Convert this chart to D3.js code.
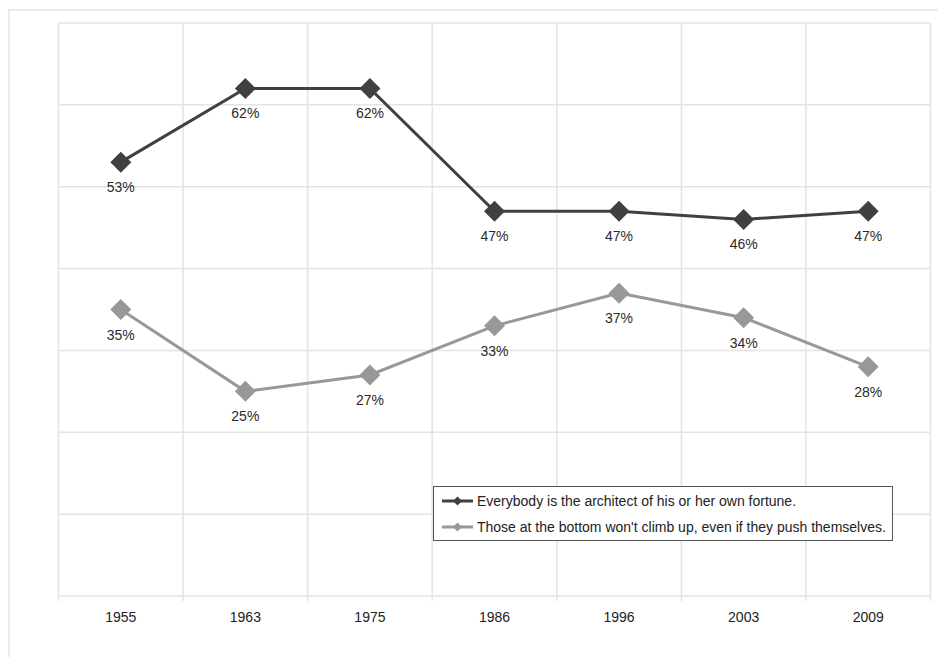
<!DOCTYPE html>
<html>
<head>
<meta charset="utf-8">
<script src="https://cdn.jsdelivr.net/npm/d3@7"></script>
<style>
  html, body { margin: 0; padding: 0; background: #fff; }
  svg { display: block; font-family: "Liberation Sans", Arial, sans-serif; }
</style>
</head>
<body>
<svg id="chart" width="938" height="657"></svg>
<script>
// Survey years and share of respondents agreeing (%)
const years = ["1955", "1963", "1975", "1986", "1996", "2003", "2009"];
const architectValues = [53, 62, 62, 47, 47, 46, 47];
const bottomValues = [35, 25, 27, 33, 37, 34, 28];
const seriesNames = [
  "Everybody is the architect of his or her own fortune.",
  "Those at the bottom won't climb up, even if they push themselves."
];
const seriesColors = ["#404040", "#989898"];
const yTicks = [0, 10, 20, 30, 40, 50, 60, 70];

const series = [
  { name: seriesNames[0], values: architectValues, color: seriesColors[0] },
  { name: seriesNames[1], values: bottomValues, color: seriesColors[1] }
];

const svg = d3.select("#chart");
const plot = { left: 58.5, right: 930.5, top: 23, bottom: 596 };
const fontSize = 14;

// Outer chart frame
svg.append("rect")
  .attr("x", 9).attr("y", 10)
  .attr("width", 940).attr("height", 660)
  .attr("fill", "#fff")
  .attr("stroke", "#ececec").attr("stroke-width", 2);

const x = d3.scaleBand().domain(years).range([plot.left, plot.right]);
const y = d3.scaleLinear().domain([0, 70]).range([plot.bottom, plot.top]);

// Horizontal gridlines
svg.append("g").selectAll("line").data(yTicks).join("line")
  .attr("x1", plot.left).attr("x2", plot.right)
  .attr("y1", d => y(d)).attr("y2", d => y(d))
  .attr("stroke", "#e4e4e4").attr("stroke-width", 1.5);

// Vertical gridlines on category boundaries, with small ticks below the axis
const bounds = years.map(d => x(d)).concat([plot.right]);
svg.append("g").selectAll("line").data(bounds).join("line")
  .attr("x1", d => d).attr("x2", d => d)
  .attr("y1", plot.top).attr("y2", plot.bottom + 5)
  .attr("stroke", "#e4e4e4").attr("stroke-width", 1.5);

// Category axis labels
const xAxis = d3.axisBottom(x).tickSize(0).tickPadding(0);
const gx = svg.append("g")
  .attr("transform", `translate(0,${plot.bottom})`)
  .call(xAxis);
gx.select(".domain").remove();
gx.selectAll("text")
  .attr("y", 26).attr("dy", null)
  .attr("font-size", fontSize).attr("fill", "#222")
  .attr("font-family", "'Liberation Sans', Arial, sans-serif");

const cx = d => x(d) + x.bandwidth() / 2;
const line = d3.line().x(d => cx(d.year)).y(d => y(d.value));
const diamond = r => `M0,${-r}L${r},0L0,${r}L${-r},0Z`;

series.forEach(s => {
  const pts = years.map((yr, i) => ({ year: yr, value: s.values[i] }));
  const g = svg.append("g");
  g.append("path").datum(pts)
    .attr("d", line)
    .attr("fill", "none")
    .attr("stroke", s.color).attr("stroke-width", 3);
  g.selectAll("path.mark").data(pts).join("path")
    .attr("class", "mark")
    .attr("d", diamond(10.5))
    .attr("transform", d => `translate(${cx(d.year)},${y(d.value)})`)
    .attr("fill", s.color);
  g.selectAll("text").data(pts).join("text")
    .attr("x", d => cx(d.year))
    .attr("y", d => y(d.value) + 30)
    .attr("text-anchor", "middle")
    .attr("font-size", fontSize).attr("fill", "#2a2a2a")
    .text(d => d.value + "%");
});

// Legend
const lg = svg.append("g");
lg.append("rect")
  .attr("x", 433.5).attr("y", 486.5)
  .attr("width", 459).attr("height", 54)
  .attr("fill", "#fff").attr("stroke", "#555").attr("stroke-width", 1);
series.forEach((s, i) => {
  const ly = 501 + i * 26;
  lg.append("line")
    .attr("x1", 442).attr("x2", 473).attr("y1", ly).attr("y2", ly)
    .attr("stroke", s.color).attr("stroke-width", 3);
  lg.append("path")
    .attr("d", diamond(4.5))
    .attr("transform", `translate(457.5,${ly})`)
    .attr("fill", s.color);
  lg.append("text")
    .attr("x", 477).attr("y", ly + 5)
    .attr("font-size", fontSize).attr("fill", "#222")
    .text(s.name);
});
</script>
</body>
</html>
